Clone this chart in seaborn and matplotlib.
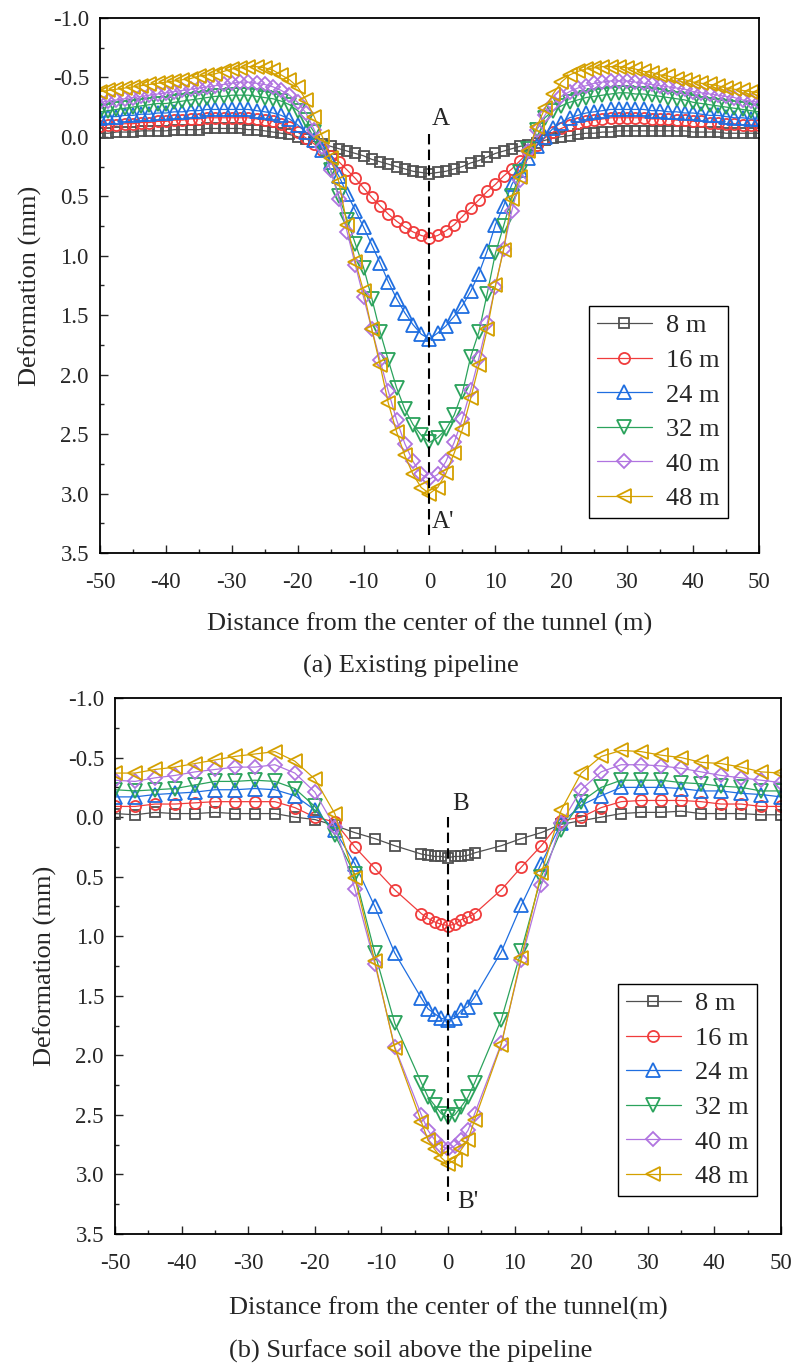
import matplotlib
matplotlib.use("Agg")
import matplotlib.pyplot as plt
import seaborn as sns
from matplotlib.ticker import MultipleLocator, FormatStrFormatter

sns.set_style("ticks")
plt.rcParams['font.family'] = ['Liberation Serif', 'DejaVu Serif']
plt.rcParams['axes.unicode_minus'] = False

# legend labels and styling per tunnel advance
labels = ['8 m', '16 m', '24 m', '32 m', '40 m', '48 m']
colors = ['#505050', '#f03c3c', '#1f6ee0', '#2ba35c', '#b074e0', '#d4a000']
markers = ['s', 'o', '^', 'v', 'D', '<']
msizes = [7, 8, 9.5, 9.5, 7, 9.5]

# (a) Existing pipeline -- deformation (mm), positive = settlement
x_a = [-50.0, -48.75, -47.5, -46.25, -45.0, -43.75, -42.5, -41.25, -40.0, -38.75,
       -37.5, -36.25, -35.0, -33.75, -32.5, -31.25, -30.0, -28.75, -27.5, -26.25,
       -25.0, -23.75, -22.5, -21.25, -20.0, -18.75, -17.5, -16.25, -15.0, -13.75,
       -12.5, -11.25, -10.0, -8.75, -7.5, -6.25, -5.0, -3.75, -2.5, -1.25,
       0.0, 1.25, 2.5, 3.75, 5.0, 6.25, 7.5, 8.75, 10.0, 11.25,
       12.5, 13.75, 15.0, 16.25, 17.5, 18.75, 20.0, 21.25, 22.5, 23.75,
       25.0, 26.25, 27.5, 28.75, 30.0, 31.25, 32.5, 33.75, 35.0, 36.25,
       37.5, 38.75, 40.0, 41.25, 42.5, 43.75, 45.0, 46.25, 47.5, 48.75, 50.0]

gray_a = [-0.03, -0.03, -0.04, -0.04, -0.04, -0.05, -0.05, -0.05, -0.05, -0.06,
          -0.06, -0.06, -0.06, -0.07, -0.07, -0.07, -0.07, -0.07, -0.06, -0.06,
          -0.05, -0.04, -0.03, -0.02, 0.00, 0.02, 0.04, 0.06, 0.08, 0.10,
          0.12, 0.14, 0.16, 0.19, 0.21, 0.23, 0.25, 0.27, 0.29, 0.30,
          0.31, 0.30, 0.29, 0.27, 0.25, 0.22, 0.20, 0.17, 0.14, 0.12,
          0.10, 0.08, 0.07, 0.05, 0.03, 0.01, 0.00, -0.01, -0.02, -0.03,
          -0.03, -0.04, -0.04, -0.05, -0.05, -0.05, -0.05, -0.05, -0.05, -0.05,
          -0.05, -0.05, -0.04, -0.04, -0.04, -0.04, -0.03, -0.03, -0.03, -0.03, -0.03]

red_a = [-0.09, -0.10, -0.10, -0.11, -0.11, -0.12, -0.12, -0.13, -0.13, -0.14,
         -0.14, -0.15, -0.15, -0.16, -0.16, -0.16, -0.16, -0.16, -0.16, -0.15,
         -0.14, -0.13, -0.11, -0.08, -0.04, 0.01, 0.06, 0.11, 0.16, 0.21,
         0.28, 0.35, 0.43, 0.51, 0.58, 0.65, 0.71, 0.76, 0.80, 0.83,
         0.85, 0.83, 0.79, 0.74, 0.67, 0.60, 0.53, 0.46, 0.40, 0.33,
         0.27, 0.20, 0.13, 0.07, 0.01, -0.04, -0.07, -0.10, -0.12, -0.13,
         -0.14, -0.15, -0.16, -0.16, -0.16, -0.16, -0.16, -0.15, -0.15, -0.15,
         -0.14, -0.14, -0.13, -0.13, -0.12, -0.12, -0.11, -0.11, -0.10, -0.10, -0.10]

blue_a = [-0.16, -0.17, -0.17, -0.18, -0.18, -0.19, -0.19, -0.20, -0.20, -0.21,
          -0.21, -0.22, -0.22, -0.23, -0.23, -0.23, -0.23, -0.23, -0.23, -0.22,
          -0.21, -0.20, -0.18, -0.15, -0.10, -0.04, 0.03, 0.11, 0.21, 0.33,
          0.48, 0.62, 0.76, 0.91, 1.06, 1.22, 1.36, 1.48, 1.58, 1.66,
          1.70, 1.65, 1.59, 1.51, 1.42, 1.30, 1.15, 0.96, 0.74, 0.58,
          0.40, 0.28, 0.18, 0.08, 0.00, -0.07, -0.12, -0.16, -0.18, -0.20,
          -0.21, -0.22, -0.23, -0.23, -0.23, -0.23, -0.23, -0.22, -0.22, -0.21,
          -0.21, -0.20, -0.20, -0.19, -0.18, -0.18, -0.17, -0.16, -0.16, -0.15, -0.15]

green_a = [-0.21, -0.22, -0.23, -0.24, -0.25, -0.26, -0.27, -0.28, -0.28, -0.29,
           -0.30, -0.31, -0.32, -0.33, -0.34, -0.34, -0.35, -0.35, -0.35, -0.34,
           -0.33, -0.32, -0.30, -0.27, -0.22, -0.14, -0.04, 0.10, 0.28, 0.50,
           0.70, 0.90, 1.10, 1.36, 1.64, 1.88, 2.11, 2.29, 2.42, 2.51,
           2.57, 2.53, 2.46, 2.34, 2.15, 1.85, 1.64, 1.32, 0.98, 0.75,
           0.50, 0.30, 0.10, -0.06, -0.16, -0.22, -0.26, -0.29, -0.31, -0.33,
           -0.34, -0.35, -0.36, -0.37, -0.37, -0.36, -0.36, -0.35, -0.34, -0.33,
           -0.32, -0.31, -0.29, -0.28, -0.27, -0.26, -0.25, -0.24, -0.23, -0.22, -0.21]

purple_a = [-0.29, -0.30, -0.31, -0.32, -0.33, -0.34, -0.35, -0.36, -0.37, -0.38,
            -0.39, -0.40, -0.41, -0.42, -0.43, -0.44, -0.45, -0.46, -0.46, -0.45,
            -0.44, -0.42, -0.39, -0.35, -0.29, -0.20, -0.06, 0.09, 0.28, 0.52,
            0.80, 1.08, 1.35, 1.62, 1.88, 2.14, 2.38, 2.58, 2.73, 2.84,
            2.88, 2.84, 2.73, 2.57, 2.37, 2.13, 1.86, 1.57, 1.26, 0.94,
            0.62, 0.36, 0.12, -0.06, -0.18, -0.28, -0.34, -0.38, -0.41, -0.43,
            -0.45, -0.46, -0.47, -0.47, -0.47, -0.46, -0.45, -0.44, -0.43, -0.42,
            -0.41, -0.40, -0.38, -0.37, -0.36, -0.35, -0.34, -0.33, -0.31, -0.30, -0.29]

yellow_a = [-0.38, -0.39, -0.40, -0.41, -0.42, -0.43, -0.44, -0.45, -0.46, -0.47,
            -0.48, -0.49, -0.51, -0.52, -0.53, -0.55, -0.57, -0.58, -0.59, -0.59,
            -0.58, -0.56, -0.52, -0.48, -0.42, -0.31, -0.17, 0.00, 0.18, 0.38,
            0.74, 1.05, 1.30, 1.62, 1.92, 2.24, 2.48, 2.68, 2.84, 2.95,
            3.00, 2.95, 2.83, 2.66, 2.46, 2.20, 1.92, 1.62, 1.25, 0.95,
            0.52, 0.34, 0.12, -0.08, -0.24, -0.36, -0.46, -0.52, -0.55, -0.57,
            -0.58, -0.59, -0.59, -0.59, -0.58, -0.57, -0.55, -0.54, -0.52, -0.51,
            -0.49, -0.48, -0.46, -0.45, -0.44, -0.43, -0.41, -0.40, -0.39, -0.38, -0.37]

# (b) Surface soil above the pipeline
x_b = [-50, -47, -44, -41, -38, -35, -32, -29, -26, -23, -20, -17, -14, -11, -8,
       -4, -3, -2, -1, 0, 1, 2, 3, 4,
       8, 11, 14, 17, 20, 23, 26, 29, 32, 35, 38, 41, 44, 47, 50]

gray_b = [-0.03, -0.02, -0.04, -0.03, -0.03, -0.04, -0.03, -0.03, -0.03, 0.00, 0.02, 0.07, 0.13, 0.18, 0.24,
          0.31, 0.32, 0.33, 0.33, 0.34, 0.33, 0.33, 0.32, 0.30,
          0.24, 0.18, 0.13, 0.06, 0.03, 0.00, -0.03, -0.04, -0.04, -0.05, -0.03, -0.03, -0.03, -0.02, -0.02]
red_b = [-0.09, -0.09, -0.11, -0.11, -0.12, -0.13, -0.13, -0.13, -0.13, -0.08, 0.00, 0.04, 0.25, 0.43, 0.61,
         0.81, 0.85, 0.88, 0.90, 0.91, 0.90, 0.86, 0.84, 0.81,
         0.61, 0.42, 0.24, 0.03, 0.00, -0.08, -0.13, -0.14, -0.14, -0.14, -0.13, -0.11, -0.11, -0.09, -0.09]
blue_b = [-0.17, -0.17, -0.19, -0.20, -0.21, -0.23, -0.23, -0.24, -0.23, -0.18, -0.06, 0.11, 0.39, 0.75, 1.14,
          1.52, 1.61, 1.65, 1.69, 1.70, 1.69, 1.62, 1.59, 1.51,
          1.13, 0.74, 0.39, 0.05, -0.10, -0.18, -0.25, -0.25, -0.25, -0.24, -0.22, -0.22, -0.20, -0.19, -0.17]
green_b = [-0.23, -0.22, -0.23, -0.24, -0.27, -0.30, -0.30, -0.31, -0.30, -0.24, -0.09, 0.15, 0.48, 1.14, 1.73,
           2.23, 2.35, 2.42, 2.49, 2.52, 2.50, 2.43, 2.35, 2.23,
           1.70, 1.12, 0.50, 0.11, -0.13, -0.25, -0.31, -0.31, -0.31, -0.29, -0.28, -0.26, -0.25, -0.22, -0.22]
purple_b = [-0.31, -0.30, -0.33, -0.35, -0.38, -0.40, -0.42, -0.42, -0.44, -0.37, -0.21, 0.08, 0.60, 1.23, 1.93,
            2.50, 2.63, 2.71, 2.76, 2.79, 2.76, 2.71, 2.63, 2.49,
            1.90, 1.20, 0.57, 0.05, -0.23, -0.38, -0.44, -0.44, -0.43, -0.41, -0.38, -0.35, -0.33, -0.31, -0.29]
yellow_b = [-0.37, -0.37, -0.40, -0.42, -0.45, -0.48, -0.51, -0.53, -0.55, -0.47, -0.32, -0.03, 0.51, 1.21, 1.94,
            2.56, 2.71, 2.79, 2.86, 2.91, 2.88, 2.79, 2.71, 2.54,
            1.91, 1.18, 0.47, -0.06, -0.37, -0.51, -0.56, -0.55, -0.52, -0.50, -0.46, -0.45, -0.42, -0.38, -0.37]

series_a = [gray_a, red_a, blue_a, green_a, purple_a, yellow_a]
series_b = [gray_b, red_b, blue_b, green_b, purple_b, yellow_b]

fig = plt.figure(figsize=(7.95, 13.66), dpi=100)
ax1 = fig.add_axes([0.1258, 0.5952, 0.8289, 0.3917])
ax2 = fig.add_axes([0.1447, 0.0966, 0.8377, 0.3924])


def draw_panel(ax, x, series, xlabel, legend_anchor, xlabelpad):
    for y, lab, c, m, ms in zip(series, labels, colors, markers, msizes):
        sns.lineplot(x=x, y=y, ax=ax, color=c, lw=0.9, marker=m, markersize=ms,
                     markerfacecolor='none', markeredgecolor=c, markeredgewidth=1.3,
                     label=lab)
    ax.set_xlim(-50, 50)
    ax.set_ylim(3.5, -1.0)
    ax.xaxis.set_major_locator(MultipleLocator(10))
    ax.xaxis.set_minor_locator(MultipleLocator(5))
    ax.yaxis.set_major_locator(MultipleLocator(0.5))
    ax.yaxis.set_minor_locator(MultipleLocator(0.25))
    ax.yaxis.set_major_formatter(FormatStrFormatter('%.1f'))
    ax.tick_params(which='both', direction='in', top=False, right=False, width=1.0)
    ax.tick_params(which='major', length=6, labelsize=16.5)
    ax.tick_params(axis='x', which='major', pad=14)
    ax.tick_params(axis='y', which='major', pad=8)
    ax.tick_params(which='minor', length=3)
    for sp in ax.spines.values():
        sp.set_linewidth(1.3)
        sp.set_color('black')
    ax.set_xlabel(xlabel, fontsize=19, labelpad=xlabelpad)
    ax.set_ylabel('Deformation (mm)', fontsize=19, labelpad=8)
    ax.legend(loc='lower right', bbox_to_anchor=legend_anchor, fontsize=19,
              frameon=True, fancybox=False, edgecolor='black', framealpha=1,
              handlelength=2.1, handletextpad=0.55, labelspacing=0.42,
              borderpad=0.3, borderaxespad=0)


draw_panel(ax1, x_a, series_a, 'Distance from the center of the tunnel (m)', (0.953, 0.065), 14)
draw_panel(ax2, x_b, series_b, 'Distance from the center of the tunnel(m)', (0.964, 0.071), 16)

# section lines through the tunnel axis
ax1.plot([0, 0], [-0.02, 3.35], color='black', lw=1.5, dashes=(5, 2.5), zorder=5)
ax1.text(0.4, -0.06, 'A', fontsize=18, ha='left', va='bottom')
ax1.text(0.4, 3.24, "A'", fontsize=18, ha='left', va='center')

ax2.plot([0, 0], [0.0, 3.22], color='black', lw=1.5, dashes=(5, 2.5), zorder=5)
ax2.text(0.7, -0.02, 'B', fontsize=18, ha='left', va='bottom')
ax2.text(1.4, 3.23, "B'", fontsize=18, ha='left', va='center')

fig.text(411 / 795, 1 - 666 / 1366, '(a) Existing pipeline', ha='center', va='center', fontsize=19)
fig.text(411 / 795, 1 - 1351 / 1366, '(b) Surface soil above the pipeline', ha='center', va='center', fontsize=19)

fig.savefig('out.png', dpi=100)
